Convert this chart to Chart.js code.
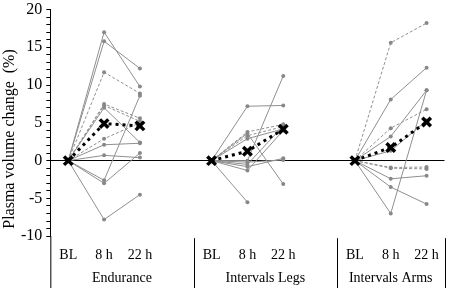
<!DOCTYPE html>
<html>
<head>
<meta charset="utf-8">
<script src="https://cdn.jsdelivr.net/npm/chart.js@4"></script>
<style>
  html, body { margin: 0; padding: 0; background: #fff; }
  #wrap { width: 454px; height: 288px; }
</style>
</head>
<body>
<div id="wrap"><canvas id="lineChart" width="454" height="288"></canvas></div>
<script>
// tick labels and groups
const timeLabels = ["BL", "8 h", "22 h"];
const groupNames = ["Endurance", "Intervals Legs", "Intervals Arms"];
const yTicks = [-10, -5, 0, 5, 10, 15, 20];

// individual subjects: [BL, 8 h, 22 h] in % change
const enduranceSubjects = [
    [0, 17.0, 9.8], [0, 15.8, 12.2], [0, 11.7, 8.9], [0, 7.5, 5.6],
    [0, 7.3, 5.2], [0, 7.0, 2.4], [0, 2.9, 5.0], [0, 2.1, 2.3],
    [0, 0.7, 0.4], [0, -2.6, 8.6], [0, -3.0, 1.0], [0, -7.8, -4.5]
];
const enduranceDashed = [false, false, true, true, true, false, true, false, false, false, false, false];

const legsSubjects = [
    [0, 7.2, 7.3], [0, 0.0, 11.2], [0, 3.6, -3.1], [0, -5.5, null],
    [0, 3.8, 4.8], [0, 3.3, 4.5], [0, 2.9, 4.2], [0, -0.2, 0.1],
    [0, -0.8, 0.3], [0, -1.3, 4.0], [0, -0.5, 4.6]
];
const legsDashed = [false, false, false, false, true, true, false, false, false, false, false];

const armsSubjects = [
    [0, 15.6, 18.2], [0, 8.1, 12.3], [0, 4.3, 6.8], [0, 3.2, 9.3],
    [0, -7.0, 9.3], [0, 1.3, 5.3], [0, -0.9, -0.85], [0, -1.0, -1.1],
    [0, -2.4, -2.0], [0, -3.5, -5.75]
];
const armsDashed = [true, false, true, false, false, false, true, true, false, false];

// group means (black crosses)
const enduranceMean = [0, 4.9, 4.6];
const legsMean = [0, 1.25, 4.15];
const armsMean = [0, 1.75, 5.1];

// 3 groups of 3 points with an empty slot between groups
const labels = [];
groupNames.forEach((g, i) => {
    timeLabels.forEach((t) => labels.push(t));
    if (i < groupNames.length - 1) labels.push("");
});

function placeInGroup(values, groupIndex) {
    const arr = labels.map(() => null);
    values.forEach((v, k) => { arr[groupIndex * 4 + k] = v; });
    return arr;
}

const datasets = [];

// mean line on top
const meanData = labels.map(() => null);
[enduranceMean, legsMean, armsMean].forEach((m, g) => {
    m.forEach((v, k) => { meanData[g * 4 + k] = v; });
});
datasets.push({
    data: meanData,
    borderColor: "#000",
    borderWidth: 3,
    borderDash: [3, 4],
    pointStyle: "crossRot",
    pointRadius: 6,
    pointBorderWidth: 3.5,
    pointBorderColor: "#000",
    spanGaps: false,
    order: 0
});

[[enduranceSubjects, enduranceDashed], [legsSubjects, legsDashed], [armsSubjects, armsDashed]]
    .forEach(([subjects, dashed], g) => {
        subjects.forEach((s, i) => {
            datasets.push({
                data: placeInGroup(s, g),
                borderColor: "#8f8f8f",
                borderWidth: 1,
                borderDash: dashed[i] ? [3, 2] : [],
                pointRadius: 2,
                pointBackgroundColor: "#888",
                pointBorderColor: "#888",
                pointBorderWidth: 0,
                spanGaps: false,
                order: 1
            });
        });
    });

const serif = "'Liberation Serif', 'Times New Roman', serif";

// separators, group names and rotated axis title
const groupAxisPlugin = {
    id: "groupAxis",
    afterDraw(chart) {
        const ctx = chart.ctx;
        const x = chart.scales.x;
        const area = chart.chartArea;
        const h = chart.height;
        const sep1 = (x.getPixelForValue(3) + x.getPixelForValue(4)) / 2;
        const sep2 = (x.getPixelForValue(7) + x.getPixelForValue(8)) / 2;
        const bounds = [area.left, sep1, sep2, area.right];

        ctx.save();
        ctx.strokeStyle = "#000";
        ctx.lineWidth = 1;
        ctx.beginPath();
        ctx.moveTo(area.left + 0.5, area.bottom);
        ctx.lineTo(area.left + 0.5, h);
        [sep1, sep2, area.right].forEach((px) => {
            ctx.moveTo(Math.round(px) + 0.5, area.bottom + 2);
            ctx.lineTo(Math.round(px) + 0.5, h);
        });
        ctx.stroke();

        ctx.fillStyle = "#000";
        ctx.font = "14px " + serif;
        ctx.textAlign = "center";
        ctx.textBaseline = "middle";
        groupNames.forEach((name, i) => {
            ctx.fillText(name, (bounds[i] + bounds[i + 1]) / 2, 278);
        });

        ctx.translate(10, 139);
        ctx.rotate(-Math.PI / 2);
        ctx.font = "16px " + serif;
        ctx.fillText("Plasma volume change  (%)", 0, 0);
        ctx.restore();
    }
};

new Chart(document.getElementById("lineChart").getContext("2d"), {
    type: "line",
    data: { labels: labels, datasets: datasets },
    options: {
        responsive: false,
        animation: false,
        layout: { padding: { left: 17, right: 2, top: 0, bottom: 13 } },
        plugins: { legend: { display: false }, tooltip: { enabled: false } },
        scales: {
            x: {
                offset: true,
                grid: { display: false, drawTicks: false },
                border: { display: false },
                ticks: {
                    color: "#000",
                    font: { family: serif, size: 14 },
                    padding: 11,
                    autoSkip: false,
                    maxRotation: 0
                }
            },
            y: {
                min: yTicks[0],
                max: yTicks[yTicks.length - 1],
                border: { display: true, color: "#000", width: 1 },
                grid: {
                    drawOnChartArea: true,
                    color: (c) => (c.tick && c.tick.value === 0 ? "#000" : "rgba(0,0,0,0)"),
                    tickColor: "#000",
                    tickLength: 4,
                    lineWidth: 1
                },
                ticks: {
                    stepSize: 1,
                    autoSkip: false,
                    color: "#000",
                    padding: 4,
                    font: { family: serif, size: 16 },
                    callback: (v) => (yTicks.includes(v) ? String(v) : "")
                },
                afterFit: (scale) => { scale.paddingTop = 8; }
            }
        }
    },
    plugins: [groupAxisPlugin]
});
</script>
</body>
</html>
